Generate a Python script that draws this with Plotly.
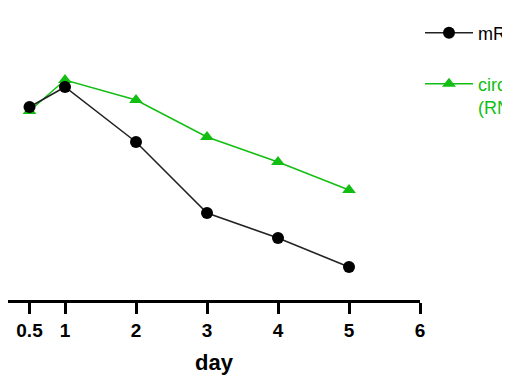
import plotly.graph_objects as go

days = [0.5, 1, 2, 3, 4, 5]
mrna = [96.5, 106.5, 79, 43.5, 31, 16.5]
circ = [94.5, 110, 100, 81.5, 69, 55]
tick_vals = [0.5, 1, 2, 3, 4, 5, 6]
tick_text = ["0.5", "1", "2", "3", "4", "5", "6"]

GREEN = "#12BE12"
LEG_FONT = dict(family="Liberation Sans", size=18, color="black")

fig = go.Figure()
fig.add_trace(go.Scatter(
    x=days, y=circ, mode="lines+markers",
    name="<span style='color:%s'>circRNA</span><br><span style='color:%s'>(RNase R)</span>" % (GREEN, GREEN),
    line=dict(color=GREEN, width=1.5),
    marker=dict(symbol="triangle-up", size=12, color=GREEN),
    legend="legend2",
))
fig.add_trace(go.Scatter(
    x=days, y=mrna, mode="lines+markers", name="mRNA",
    line=dict(color="#222222", width=1.5),
    marker=dict(symbol="circle", size=12, color="black"),
    legend="legend",
))

fig.update_layout(
    width=502, height=374,
    margin=dict(l=0, r=90, t=0, b=82, autoexpand=False),
    paper_bgcolor="white", plot_bgcolor="white",
    showlegend=True,
    legend=dict(x=1.0, xanchor="left", y=0.914, yanchor="middle",
                font=LEG_FONT, itemwidth=48, bgcolor="rgba(0,0,0,0)"),
    legend2=dict(x=1.0, xanchor="left", y=0.70, yanchor="middle",
                 font=LEG_FONT, itemwidth=48, valign="top", bgcolor="rgba(0,0,0,0)"),
    xaxis=dict(range=[0.197, 6], tickvals=tick_vals, ticktext=tick_text,
               showgrid=False, zeroline=False, showline=True, linecolor="black",
               linewidth=2.5, ticks="outside", ticklen=11, tickwidth=2.5,
               tickcolor="black",
               tickfont=dict(family="Liberation Sans", size=19, color="black", weight="bold"),
               title=dict(text="<b>day</b>", font=dict(family="Liberation Sans", size=22, color="black"),
                          standoff=16)),
    yaxis=dict(range=[0, 146], visible=False),
)

fig.write_html("out.html")
